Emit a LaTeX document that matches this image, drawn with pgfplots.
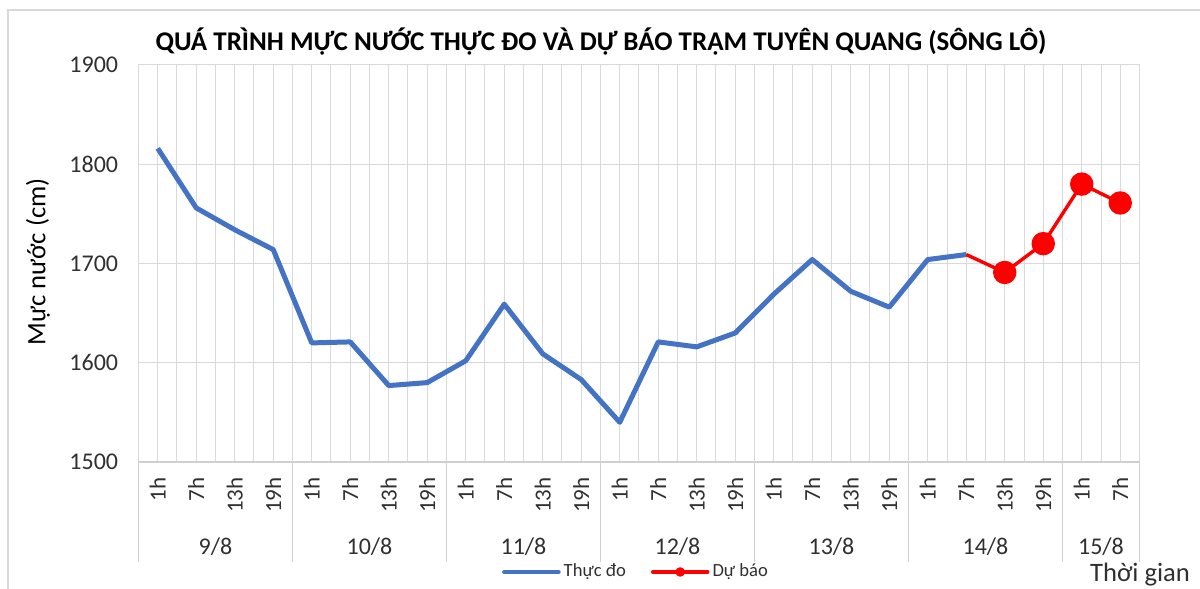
\documentclass[border=0pt]{standalone}
\usepackage{pgfplots}
\pgfplotsset{compat=1.18}
\usepackage{pgfplotstable}
\usepackage{fontspec}
\setmainfont{Carlito}
\definecolor{cblue}{HTML}{4472C4}
\definecolor{cgrid}{HTML}{D9D9D9}
\definecolor{csep}{HTML}{D0D0D0}
\definecolor{ctxt}{HTML}{303030}
\begin{document}
\begin{tikzpicture}
\path[use as bounding box] (-69.25pt,-63.5pt) rectangle (530.75pt,231pt);
\draw[cgrid, line width=1pt] (-65.25pt,-64pt) -- (-65.25pt,226pt) -- (531pt,226pt);
\pgfplotstableread{
x y
0 1816
1 1756
2 1734
3 1714
4 1620
5 1621
6 1577
7 1580
8 1602
9 1659
10 1609
11 1583
12 1540
13 1621
14 1616
15 1630
16 1669
17 1704
18 1672
19 1656
20 1704
21 1709
}\obs
\pgfplotstableread{
x y
21 1709
22 1691
23 1720
24 1780
25 1761
}\fc
\begin{axis}[
  scale only axis, width=500.5pt, height=198.5pt,
  clip=false,
  xmin=-0.5, xmax=25.5, ymin=1500, ymax=1900,
  ytick={1500,1600,1700,1800,1900},
  /pgf/number format/assume math mode=true,
  /pgf/number format/1000 sep={},
  xtick={0,...,25},
  xticklabels={1h,7h,13h,19h,1h,7h,13h,19h,1h,7h,13h,19h,1h,7h,13h,19h,1h,7h,13h,19h,1h,7h,13h,19h,1h,7h},
  minor xtick={-0.5,0.5,...,25.5},
  xmajorgrids, xminorgrids, ymajorgrids,
  grid style={cgrid, line width=0.5pt},
  minor grid style={cgrid, line width=0.5pt},
  major grid style={cgrid, line width=0.5pt},
  major tick length=0pt, minor tick length=0pt,
  axis x line*=bottom, axis y line*=left,
  x axis line style={draw=csep, line width=0.9pt, -},
  y axis line style={draw=none},
  yticklabel style={font=\fontsize{12}{13}\selectfont, text=ctxt, anchor=east, inner sep=0pt},
  yticklabel shift=10pt,
  xticklabel style={font=\fontsize{11.5}{12}\selectfont, text=ctxt, rotate=90, anchor=east, inner sep=0pt},
  xticklabel shift=7.5pt,
  legend columns=2,
  legend cell align=left,
  legend style={at={(0.4975,-0.277)}, anchor=center, draw=none, fill=none,
    font=\fontsize{9.3}{10}\selectfont, text=ctxt,
    /tikz/every even column/.append style={column sep=11pt},
    nodes={inner sep=1.5pt}},
]
\pgfplotsinvokeforeach{-0.5,3.5,7.5,11.5,15.5,19.5,23.5,25.5}{
  \draw[csep, line width=0.9pt] (axis cs:#1,1500) -- ++(0pt,-50pt);
}
\addplot[cblue, line width=2.5pt, line join=round, no marks,
  legend image code/.code={\draw[cblue, line width=2.3pt, line cap=round] (0pt,0pt) -- (27pt,0pt);}] table[x=x,y=y]{\obs};
\addlegendentry{Thực đo}
\addplot[red, line width=1.7pt, line join=round, mark=*, mark size=5pt, mark indices={2,3,4,5},
  legend image code/.code={\draw[red, line width=2.3pt, line cap=round] (0pt,0pt) -- (27pt,0pt); \fill[red] (13.5pt,0pt) circle (1.5pt);}] table[x=x,y=y]{\fc};
\addlegendentry{Dự báo}
\node[font=\fontsize{12}{13}\selectfont, text=ctxt] at (axis cs:1.5,1500) [yshift=-42.5pt] {9/8};
\node[font=\fontsize{12}{13}\selectfont, text=ctxt] at (axis cs:5.5,1500) [yshift=-42.5pt] {10/8};
\node[font=\fontsize{12}{13}\selectfont, text=ctxt] at (axis cs:9.5,1500) [yshift=-42.5pt] {11/8};
\node[font=\fontsize{12}{13}\selectfont, text=ctxt] at (axis cs:13.5,1500) [yshift=-42.5pt] {12/8};
\node[font=\fontsize{12}{13}\selectfont, text=ctxt] at (axis cs:17.5,1500) [yshift=-42.5pt] {13/8};
\node[font=\fontsize{12}{13}\selectfont, text=ctxt] at (axis cs:21.5,1500) [yshift=-42.5pt] {14/8};
\node[font=\fontsize{12}{13}\selectfont, text=ctxt] at (axis cs:24.5,1500) [yshift=-42.5pt] {15/8};
\end{axis}
\node[font=\bfseries\fontsize{13.5}{14}\selectfont] at (231.25pt,210pt) {QUÁ TRÌNH MỰC NƯỚC THỰC ĐO VÀ DỰ BÁO TRẠM TUYÊN QUANG (SÔNG LÔ)};
\node[rotate=90, font=\fontsize{13.3}{14}\selectfont] at (-50.25pt,100pt) {Mực nước (cm)};
\node[font=\fontsize{13.3}{14}\selectfont, text=ctxt] at (500.75pt,-56.5pt) {Thời gian};
\end{tikzpicture}
\end{document}
